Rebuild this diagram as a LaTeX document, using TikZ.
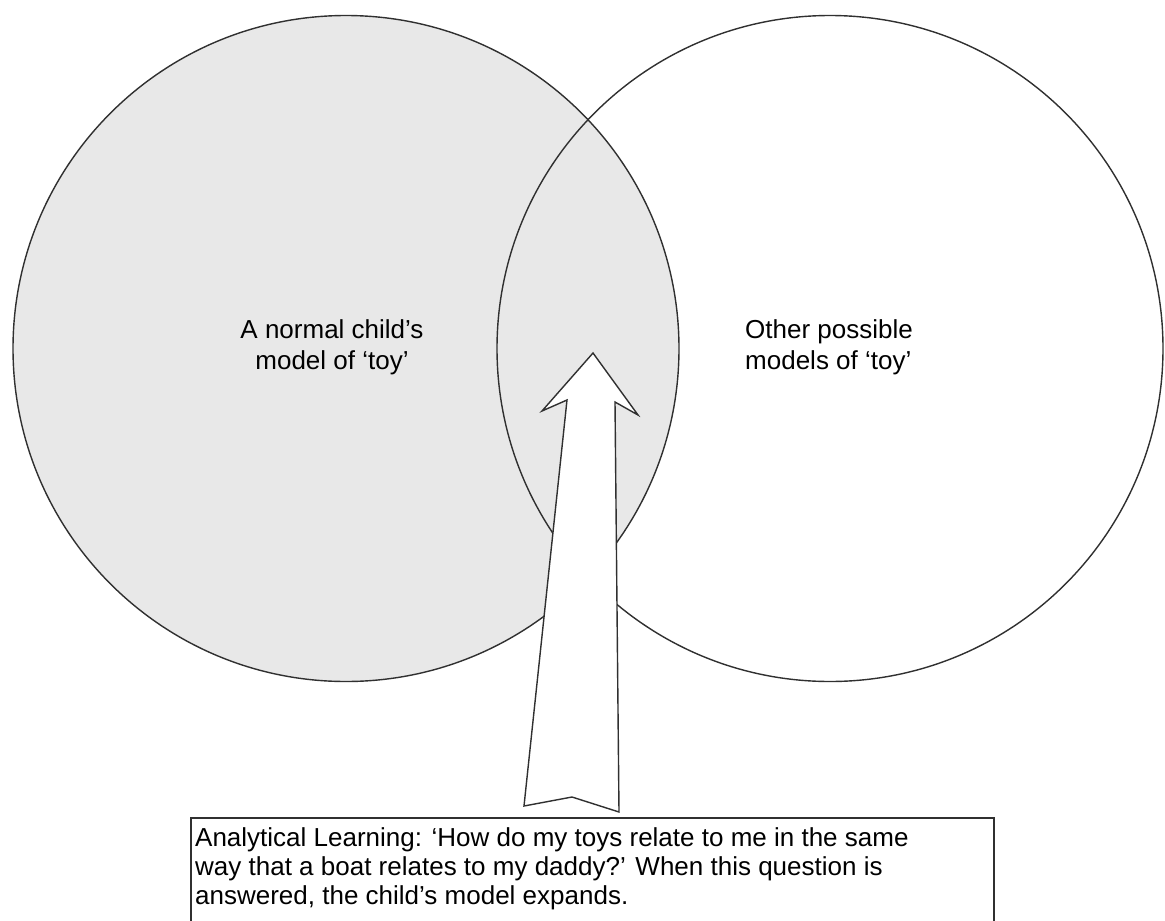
\documentclass[tikz,border=0pt]{standalone}
\usepackage{fontspec}
\setmainfont{Liberation Sans}
\usetikzlibrary{positioning}
\definecolor{venngray}{HTML}{E8E8E8}
\definecolor{edgegray}{HTML}{303030}

\begin{document}
\begin{tikzpicture}[x=1pt, y=-1pt,
        circ/.style={draw=edgegray, line width=1.4pt},
        lbl/.style={font=\fontsize{26}{31}\selectfont, inner sep=0pt},
        bigarrow/.style={draw=edgegray, fill=white, line width=1.4pt, line join=miter},
        qbox/.style={font=\fontsize{26}{29}\selectfont, align=left, inner xsep=4pt, inner ysep=9pt}
        ]
        \useasboundingbox (0,0) rectangle (1165,921);
        \clip (0,0) rectangle (1165,921);

        % ---------------- Circles ----------------
        \fill[venngray] (346,348.5) circle[radius=333pt];
        \draw[circ] (346,348.5) circle[radius=333pt];
        \draw[circ] (830,348.5) circle[radius=333pt];

        % ---------------- Labels -----------------
        \node[lbl, align=center] (childmodel) at (332,347) {A normal child’s\\model of ‘toy’};
        \node[lbl, align=left, anchor=west] (othermodels) at (745,347) {Other possible\\models of ‘toy’};

        % ---------------- Question box -----------
        \node[qbox, anchor=north west] (question) at (191,818)
                {Analytical Learning: ‘How do my toys relate to me in the same\\
                 way that a boat relates to my daddy?’ When this question is\\
                 answered, the child’s model expands.};
        \draw[edgegray, line width=2pt] (question.north west) rectangle ([yshift=-30pt]question.south west -| 994,0);

        % ---------------- Block arrow ------------
        \draw[bigarrow] (593,353) -- (638,415) -- (615,402) -- (619,812)
                -- (572,797) -- (524,806) -- (567,400) -- (542,411) -- cycle;

\end{tikzpicture}
\end{document}
